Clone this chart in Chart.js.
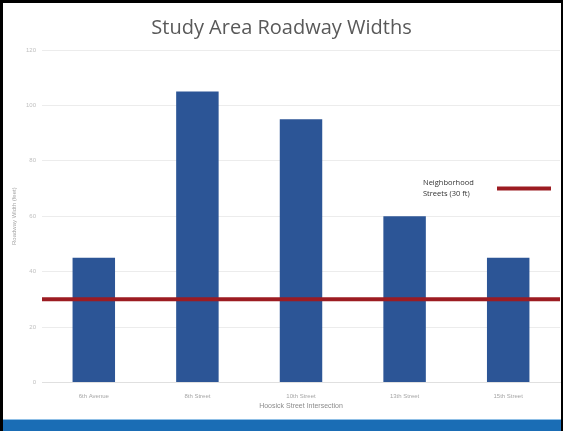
<!DOCTYPE html>
<html><head><meta charset="utf-8">
<script src="https://cdn.jsdelivr.net/npm/chart.js@4"></script>
<style>
html,body{margin:0;padding:0;background:#000;width:563px;height:431px;overflow:hidden}
#slide{position:absolute;left:3px;top:3px;width:558px;height:428px;background:#fff}
#wrap{position:absolute;left:0;top:0;width:558px;height:416px}
#band{position:absolute;left:0;top:416px;width:558px;height:12px;background:#1a6db5;border-top:1px solid #8fbfe6}
</style></head><body>
<div id="slide"><div id="wrap"><canvas id="c"></canvas></div><div id="band"></div></div>
<script>
const categories = ["6th Avenue", "8th Street", "10th Street", "13th Street", "15th Street"];
const roadwayWidths = [45, 105, 95, 60, 45];
const neighborhoodWidth = 30;
const yTicks = [0, 20, 40, 60, 80, 100, 120];

const legendPlugin = {
  id: 'inlineLegend',
  afterDatasetsDraw(chart) {
    const ds = chart.data.datasets[1];
    const ctx = chart.ctx;
    const y = chart.scales.y.getPixelForValue(70);
    ctx.save();
    ctx.fillStyle = '#333333';
    ctx.font = '7.5px "Open Sans", sans-serif';
    ctx.textBaseline = 'middle';
    ctx.fillText('Neighborhood', 420, y - 6);
    ctx.fillText('Streets (30 ft)', 420, y + 5);
    ctx.strokeStyle = ds.borderColor;
    ctx.lineWidth = 4;
    ctx.beginPath();
    ctx.moveTo(494, y); ctx.lineTo(548, y);
    ctx.stroke();
    ctx.restore();
  }
};

new Chart(document.getElementById('c'), {
  type: 'bar',
  data: {
    labels: categories,
    datasets: [
      { label: 'Roadway Width', data: roadwayWidths, backgroundColor: '#2c5596',
        categoryPercentage: 1, barPercentage: 0.41, grouped: false, order: 2 },
      { type: 'line', label: 'Neighborhood Streets (30 ft)', xAxisID: 'x2',
        data: [{x: 0, y: neighborhoodWidth}, {x: 1, y: neighborhoodWidth}],
        borderColor: '#9c1c22', borderWidth: 4, pointRadius: 0, order: 1 }
    ]
  },
  options: {
    responsive: true, maintainAspectRatio: false, animation: false,
    layout: { padding: { left: 0, right: 1, top: 0, bottom: 0 } },
    plugins: {
      legend: { display: false },
      tooltip: { enabled: false },
      title: { display: true, text: 'Study Area Roadway Widths', color: '#595959',
        font: { family: '"Open Sans", sans-serif', size: 20, weight: 'normal' },
        padding: { top: 13, bottom: 10 } }
    },
    scales: {
      x: {
        grid: { display: false }, border: { color: '#e0e0e0' },
        ticks: { color: '#a6a6a6', font: { size: 6 }, padding: 2 },
        title: { display: true, text: 'Hoosick Street Intersection', color: '#8c8c8c',
          font: { size: 7 }, padding: { top: 0, bottom: 9 } }
      },
      x2: { type: 'linear', min: 0, max: 1, display: false, offset: false, bounds: 'data' },
      y: {
        min: 0, max: 120,
        afterBuildTicks(s) { s.ticks = yTicks.map(v => ({ value: v })); },
        afterFit(s) { s.width = 39; },
        grid: { color: '#ececec', drawTicks: false },
        border: { display: false },
        ticks: { color: '#bfbfbf', font: { size: 6 }, padding: 6 },
        title: { display: true, text: 'Roadway Width (feet)', color: '#a6a6a6',
          font: { size: 6 }, padding: { top: 8, bottom: 0 } }
      }
    }
  },
  plugins: [legendPlugin]
});
</script>
</body></html>
